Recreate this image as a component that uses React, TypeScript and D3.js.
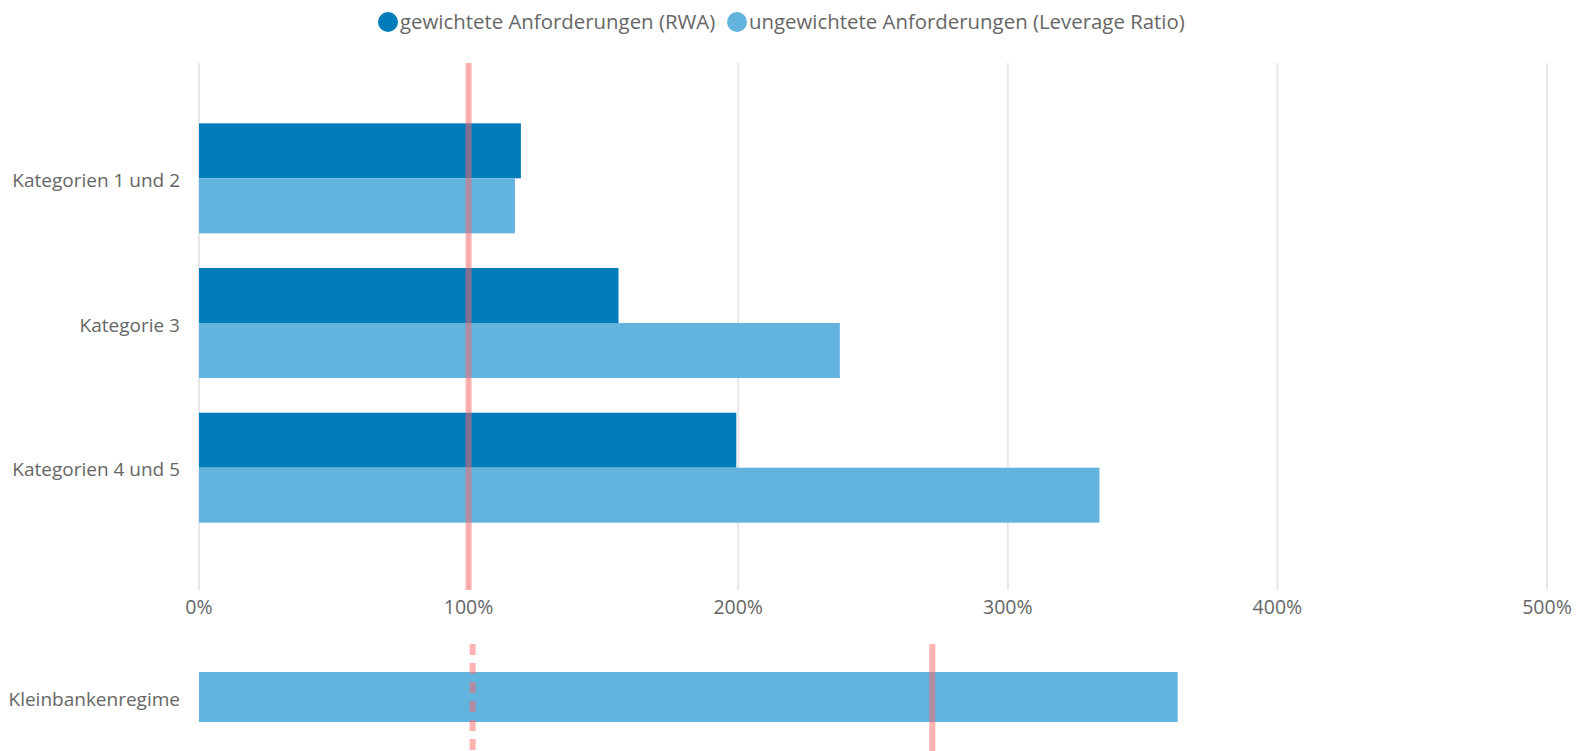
import React from 'react'
import * as d3 from 'd3'

// chart data
const categories = ['Kategorien 1 und 2', 'Kategorie 3', 'Kategorien 4 und 5']
const seriesNames = ['gewichtete Anforderungen (RWA)', 'ungewichtete Anforderungen (Leverage Ratio)']
const rwaValues = [119.4, 155.6, 199.3]
const lrValues = [117.2, 237.7, 334.0]
const xTicks = [0, 100, 200, 300, 400, 500]
const topThreshold = [100]

const smallCategory = ['Kleinbankenregime']
const smallValues = [363]
const smallDashed = [101.5]
const smallSolid = [272]

const colors = ['#017cbb', '#63b3df']
const FONT = '"Open Sans", "Segoe UI", sans-serif'
const W = 1577
const H = 751

export default function App() {
  const x = d3.scaleLinear().domain([0, 500]).range([199, 1547])

  const y = d3.scaleBand<string>()
    .domain(categories)
    .range([64, 582])
    .paddingInner(0.24)
    .paddingOuter(0.41)

  const ySub = d3.scaleBand<string>()
    .domain(seriesNames)
    .range([0, y.bandwidth()])

  const yBottom = d3.scaleBand<string>()
    .domain(smallCategory)
    .range([672, 722])

  const series = [rwaValues, lrValues]

  return (
    <svg width={W} height={H} style={{ position: 'absolute', left: 0, top: 0, display: 'block' }}
      fontFamily={FONT}>
      <rect width={W} height={H} fill='#fff' />

      {/* legend */}
      <g fontSize={20.4} fill='#666'>
        <circle cx={388} cy={22} r={10} fill={colors[0]} />
        <text x={400} y={22} dy='0.35em'>{seriesNames[0]}</text>
        <circle cx={737} cy={22} r={10} fill={colors[1]} />
        <text x={749} y={22} dy='0.35em'>{seriesNames[1]}</text>
      </g>

      {/* grid */}
      {xTicks.map(t => (
        <line key={'g' + t} x1={x(t)} x2={x(t)} y1={63} y2={590} stroke='#e8e8e8' strokeWidth={2} />
      ))}

      {/* bars */}
      {categories.map((c, i) => (
        <g key={c} transform={`translate(0,${y(c)})`}>
          {seriesNames.map((s, j) => (
            <rect key={s} x={x(0)} y={ySub(s)} width={x(series[j][i]) - x(0)} height={ySub.bandwidth()}
              fill={colors[j]} />
          ))}
          <text x={180} y={y.bandwidth() / 2 + 2} dy='0.35em' textAnchor='end' fontSize={19} fill='#666'>{c}</text>
        </g>
      ))}

      {topThreshold.map(v => (
        <line key={'t' + v} x1={x(v)} x2={x(v)} y1={63} y2={590} stroke='#ff6666' strokeOpacity={0.5} strokeWidth={6} />
      ))}

      {/* x axis labels */}
      {xTicks.map(t => (
        <text key={'l' + t} x={x(t)} y={607} dy='0.35em' textAnchor='middle' fontSize={19.5} fill='#666'>
          {d3.format('.0%')(t / 100)}
        </text>
      ))}

      {/* bottom panel */}
      {smallCategory.map((c, i) => (
        <g key={c}>
          <rect x={x(0)} y={yBottom(c)} width={x(smallValues[i]) - x(0)} height={yBottom.bandwidth()} fill={colors[1]} />
          <text x={180} y={(yBottom(c) ?? 0) + yBottom.bandwidth() / 2 + 2} dy='0.35em' textAnchor='end' fontSize={19} fill='#666'>{c}</text>
        </g>
      ))}
      {smallDashed.map(v => (
        <line key={'d' + v} x1={x(v)} x2={x(v)} y1={644} y2={751} stroke='#ff6666' strokeOpacity={0.5}
          strokeWidth={6} strokeDasharray='11 8' />
      ))}
      {smallSolid.map(v => (
        <line key={'s' + v} x1={x(v)} x2={x(v)} y1={644} y2={751} stroke='#ff6666' strokeOpacity={0.5} strokeWidth={6} />
      ))}
    </svg>
  )
}
